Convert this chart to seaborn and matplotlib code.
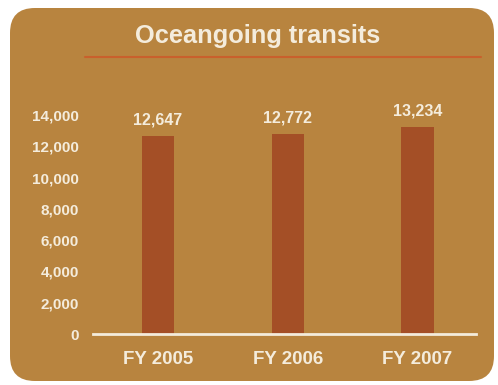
import matplotlib
matplotlib.use("Agg")
import matplotlib.pyplot as plt
from matplotlib.patches import FancyBboxPatch
from matplotlib.lines import Line2D
import seaborn as sns
import pandas as pd

categories = ["FY 2005", "FY 2006", "FY 2007"]
values = [12647, 12772, 13234]
yticks = [0, 2000, 4000, 6000, 8000, 10000, 12000, 14000]
title = "Oceangoing transits"

BG = "#b8843f"
BAR = "#a44f26"
TXT = "#f4ecdc"
LINE = "#c9602c"

sns.set_theme(style="white")
plt.rcParams["font.family"] = ["Liberation Sans", "DejaVu Sans"]

W, H = 498, 385
fig = plt.figure(figsize=(W / 100, H / 100), dpi=100)
fig.patch.set_facecolor("white")

bg = FancyBboxPatch((10 / W, 1 - 381 / H), (494 - 10) / W, (381 - 8) / H,
                    boxstyle="round,pad=0,rounding_size=0.05",
                    transform=fig.transFigure, facecolor=BG, edgecolor="none",
                    mutation_aspect=W / H, zorder=-5)
fig.patches.append(bg)

fig.text(258 / W, 1 - 36 / H, title, ha="center", va="center",
         color=TXT, fontsize=18.3, fontweight="bold")
fig.add_artist(Line2D([85 / W, 481 / W], [1 - 57 / H, 1 - 57 / H],
                      transform=fig.transFigure, color=LINE, lw=1.5))

ax = fig.add_axes([93 / W, 1 - 334 / H, (476 - 93) / W, (334 - 115) / H])
ax.set_facecolor("none")
ax.set_zorder(2)

df = pd.DataFrame({"year": categories, "value": values})
sns.barplot(data=df, x="year", y="value", color=BAR, width=0.25,
            saturation=1, linewidth=0, edgecolor="none", ax=ax)
ax.set_xlim(-0.5, 2.45)
ax.set_ylim(0, 14000)
ax.set_yticks(yticks)
ax.set_yticklabels([f"{v:,}" for v in yticks], color=TXT, fontsize=11,
                   fontweight="bold")
ax.tick_params(axis="y", length=0, pad=10)
ax.tick_params(axis="x", length=0, pad=12, labelsize=13.5, labelcolor=TXT)
for lab in ax.get_xticklabels():
    lab.set_fontweight("bold")
ax.set_xlabel("")
ax.set_ylabel("")
for s in ["top", "right", "left"]:
    ax.spines[s].set_visible(False)
ax.spines["bottom"].set_color(TXT)
ax.spines["bottom"].set_linewidth(2)

for i, v in enumerate(values):
    ax.annotate(f"{v:,}", (i, v), xytext=(0, 6), textcoords="offset points",
                ha="center", va="bottom", color=TXT, fontsize=11.5,
                fontweight="bold", annotation_clip=False)

fig.savefig("out.png", dpi=100, facecolor="white")
